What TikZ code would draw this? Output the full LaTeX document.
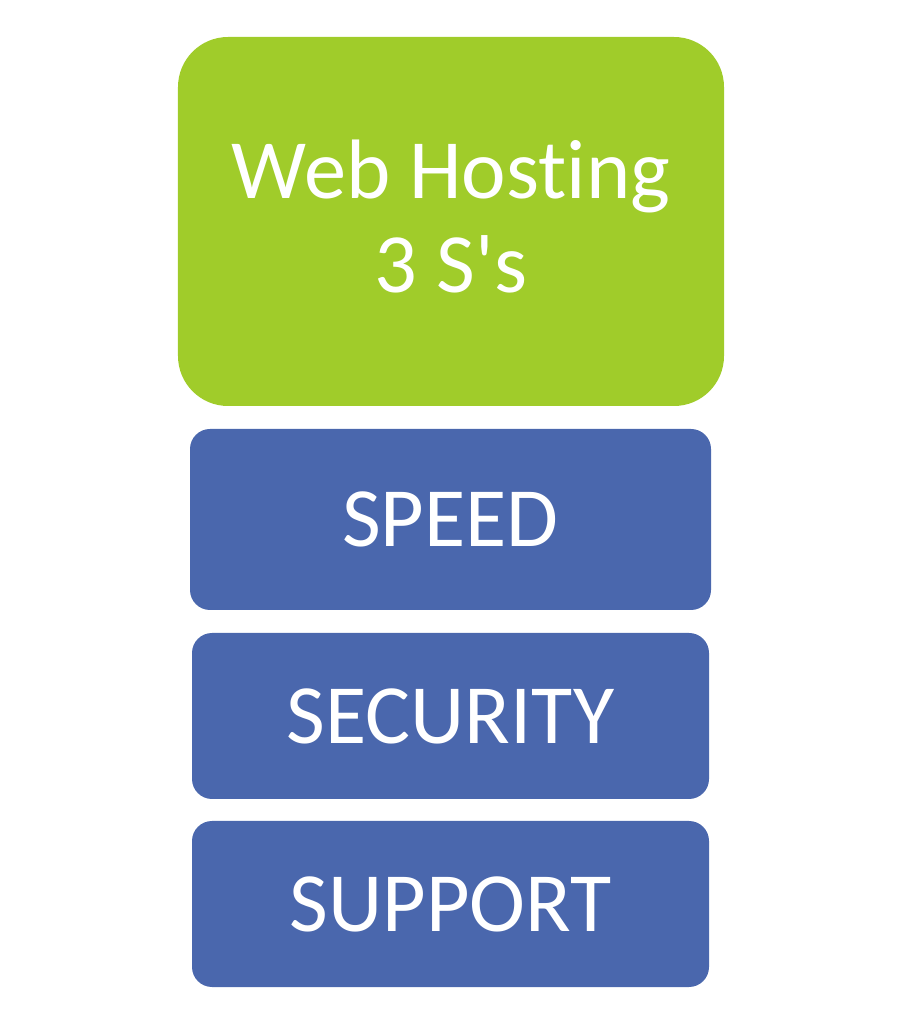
\documentclass[tikz,border=0pt]{standalone}
\usepackage{fontspec}
\setmainfont{Carlito}[Ligatures={NoCommon}]
\usepackage{tikz}
\usetikzlibrary{positioning}

\definecolor{hostgreen}{RGB}{160,204,42}
\definecolor{sblue}{RGB}{74,103,173}

\begin{document}
\begin{tikzpicture}[
                font=\fontsize{24}{26.7}\selectfont,
                headbox/.style={rectangle, fill=hostgreen, rounded corners=0.5cm, minimum width=5.46cm, minimum height=3.69cm, inner sep=0pt},
                sbox/.style={rectangle, fill=sblue, rounded corners=0.2cm, minimum width=5.17cm, minimum height=1.66cm, align=center, inner sep=0pt, text=white},
            ]
            \useasboundingbox (0,0) rectangle (9.01,10.24);
            \node[headbox] (head) at (4.51,8.025) {};
            \node[align=center, text=white, inner sep=0pt] (headtext) at ([yshift=0.05cm]head.center) {Web Hosting\\3 S\textquotesingle s};
            \node[sbox, minimum width=5.21cm, minimum height=1.81cm] (speed) at (4.505,5.045) {SPEED};
            \node[sbox] (security) at (4.505,3.08) {SECURITY};
            \node[sbox] (support) at (4.505,1.2) {SUPPORT};
        \end{tikzpicture}
\end{document}
